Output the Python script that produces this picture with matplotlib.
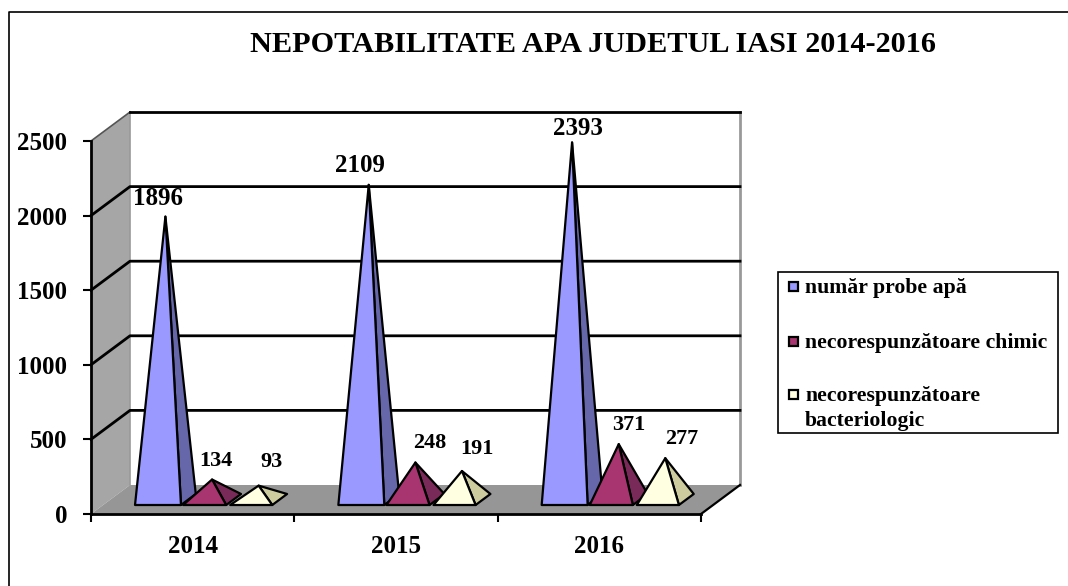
import numpy as np
import matplotlib
matplotlib.use("Agg")
import matplotlib.pyplot as plt
from matplotlib.patches import Polygon, Rectangle
from matplotlib.lines import Line2D

# Data
years = ["2014", "2015", "2016"]
probe = [1896, 2109, 2393]
chimic = [134, 248, 371]
bacterio = [93, 191, 277]
series_names = ["număr probe apă", "necorespunzătoare chimic",
                "necorespunzătoare\nbacteriologic"]
yticks = [0, 500, 1000, 1500, 2000, 2500]

# label offsets from the apex, in points
probe_off = [(-5, 13), (-6, 14), (4, 10)]
chimic_off = [(3, 13), (10, 14), (7, 14)]
bacterio_off = [(9, 17), (11, 16), (12, 14)]

# Colours (front, side)
colors = [("#9999FF", "#6666AA"), ("#A8356F", "#7A2A58"), ("#FFFFE2", "#CCCC9F")]

plt.rcParams['font.family'] = ['Liberation Serif', 'DejaVu Serif']
plt.rcParams['font.weight'] = 'bold'

W, H = 1068, 586
fig = plt.figure(figsize=(W / 100, H / 100), dpi=100)
ax = fig.add_axes([91 / W, (H - 514) / H, 610 / W, 373 / H])
ax.set_xlim(0, 3)
ax.set_ylim(0, 2500)
ax.patch.set_visible(False)

# oblique depth of the box, in data units
dx = 39 / 610 * 3
dy = 29 / 373 * 2500


def proj(x, y, d):
    return (x + d * dx, y + d * dy)


def poly(pts, fc, ec="none", lw=0, z=1):
    ax.add_patch(Polygon(pts, closed=True, facecolor=fc, edgecolor=ec, linewidth=lw,
                         joinstyle="round", clip_on=False, zorder=z))


# walls and floor
poly([proj(0, 0, 1), proj(3, 0, 1), proj(3, 2500, 1), proj(0, 2500, 1)], "white", z=0.5)
poly([proj(0, 0, 0), proj(0, 0, 1), proj(0, 2500, 1), proj(0, 2500, 0)], "#A6A6A6", z=1)
poly([proj(0, 0, 0), proj(3, 0, 0), proj(3, 0, 1), proj(0, 0, 1)], "#969696", z=1)
ax.plot(*zip(proj(3, 0, 1), proj(3, 2500, 1)), color="#999999", lw=2, clip_on=False, zorder=1.5)
ax.plot(*zip(proj(0, 0, 1), proj(0, 2500, 1)), color="#999999", lw=1.2, clip_on=False, zorder=1.5)
ax.plot(*zip(proj(3, 0, 0), proj(3, 0, 1)), color="black", lw=1.6, clip_on=False, zorder=1.5)

# gridlines run up the side wall then across the back
for v in yticks[1:]:
    pts = [proj(0, v, 0), proj(0, v, 1), proj(3, v, 1)]
    if v == yticks[-1]:
        ax.plot(*zip(*pts[:2]), color="#555555", lw=1.2, clip_on=False, zorder=1.6)
        ax.plot(*zip(*pts[1:]), color="black", lw=2, clip_on=False, zorder=1.6)
    else:
        ax.plot(*zip(*pts), color="black", lw=2, clip_on=False, zorder=1.6)

# pyramids
widths = [0.226, 0.212, 0.207]
starts = [0.157, 0.3935, 0.625]
d0, d1 = 0.31, 0.69
values = [probe, chimic, bacterio]
offsets = [probe_off, chimic_off, bacterio_off]
sizes = [18, 16, 16]
z = 3
for i in range(len(years)):
    for s in range(3):
        x = i + starts[s]
        w = widths[s]
        v = values[s][i]
        apex = proj(x + w / 2, v, 0.5)
        poly([proj(x + w, 0, d0), proj(x + w, 0, d1), apex], colors[s][1], "black", 1.6, z)
        poly([proj(x, 0, d0), proj(x + w, 0, d0), apex], colors[s][0], "black", 1.6, z + 0.1)
        z += 0.2
        ax.annotate(str(v), apex, xytext=offsets[s][i], textcoords="offset points",
                    ha="center", va="center", fontsize=sizes[s], zorder=10,
                    annotation_clip=False)

# axes
for side in ["top", "right"]:
    ax.spines[side].set_visible(False)
for side in ["left", "bottom"]:
    ax.spines[side].set_linewidth(2)
    ax.spines[side].set_zorder(8)
ax.set_yticks(yticks)
ax.set_yticklabels([str(v) for v in yticks], fontsize=18)
ax.set_xticks(range(4))
ax.set_xticklabels([])
ax.set_xticks(np.arange(len(years)) + 0.5, minor=True)
ax.set_xticklabels(years, minor=True, fontsize=18)
ax.tick_params(axis="y", length=6, width=1.5, pad=11)
ax.tick_params(axis="x", which="major", length=6, width=1.5)
ax.tick_params(axis="x", which="minor", length=0, pad=15)

# title
fig.text(593 / W, 1 - 45 / H, "NEPOTABILITATE APA JUDETUL IASI 2014-2016",
         ha="center", va="center", fontsize=21.8)

# legend, by hand so the square stays on the first line of a wrapped label
fig.add_artist(Rectangle((778 / W, 1 - 433 / H), 280 / W, 161 / H, transform=fig.transFigure,
                         facecolor="white", edgecolor="black", linewidth=1.2))
for name, c, ypx in zip(series_names, colors, [286, 341, 394]):
    fig.add_artist(Rectangle((789.5 / W, 1 - (ypx + 4.5) / H), 9 / W, 9 / H,
                             transform=fig.transFigure, facecolor=c[0],
                             edgecolor="black", linewidth=1.6))
    fig.text(805 / W, 1 - (ypx - 8) / H, name, ha="left", va="top", fontsize=15.7,
             linespacing=1.35)

# outer frame
fig.add_artist(Line2D([8.5 / W, 8.5 / W, 1], [0, 1 - 11.5 / H, 1 - 11.5 / H],
                      color="black", lw=1.2))

fig.savefig("out.png", dpi=100)
